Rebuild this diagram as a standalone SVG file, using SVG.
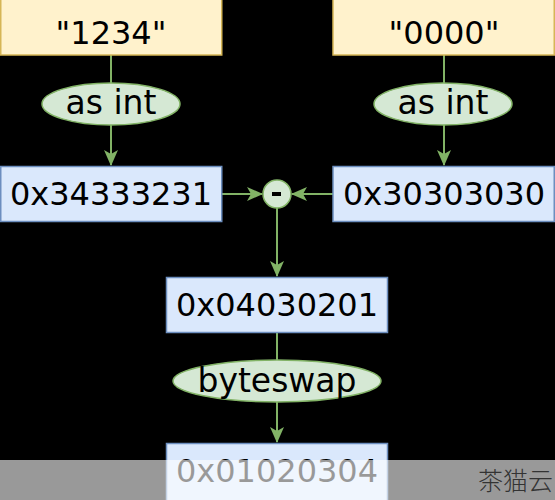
<svg xmlns="http://www.w3.org/2000/svg" width="555" height="500" viewBox="0 0 555 500">
<style>
.str{fill:#fff2cc;stroke:#d6b656;stroke-width:1.5}
.hex{fill:#dae8fc;stroke:#6c8ebf;stroke-width:1.5}
.op{fill:#d5e8d4;stroke:#82b366;stroke-width:1.5}
.t{font-family:"DejaVu Sans",sans-serif;font-size:32px;fill:#000;text-anchor:middle}
.e{font-family:"DejaVu Sans",sans-serif;font-size:33px;fill:#000;text-anchor:middle}
.c{fill:none;stroke:#82b366;stroke-width:2}
</style>
<defs>
<marker id="ah" viewBox="0 0 16 14" refX="15" refY="7" markerWidth="16" markerHeight="14" markerUnits="userSpaceOnUse" orient="auto">
<path d="M0,0 L16,7 L0,14 L4,7 Z" fill="#82b366"/>
</marker>
</defs>
<rect width="555" height="500" fill="#000"/>
<g id="connectors">
<path class="c" d="M111,55 V165" marker-end="url(#ah)"/>
<path class="c" d="M444,55 V165" marker-end="url(#ah)"/>
<path class="c" d="M222,194 H262" marker-end="url(#ah)"/>
<path class="c" d="M333,194 H292" marker-end="url(#ah)"/>
<path class="c" d="M277,208 V276" marker-end="url(#ah)"/>
<path class="c" d="M277,332 V442" marker-end="url(#ah)"/>
</g>
<g id="s1"><rect class="str" x="0.75" y="-1" width="221" height="56"/><text class="t" x="111" y="44">"1234"</text></g>
<g id="s2"><rect class="str" x="333" y="-1" width="221.25" height="56"/><text class="t" x="444" y="44">"0000"</text></g>
<g id="asint1"><ellipse class="op" cx="111" cy="104" rx="69" ry="21"/><text class="e" x="111" y="114">as int</text></g>
<g id="asint2"><ellipse class="op" cx="443" cy="104" rx="69" ry="21"/><text class="e" x="443" y="114">as int</text></g>
<g id="h1"><rect class="hex" x="0.75" y="166.5" width="221" height="55"/><text class="t" x="111" y="205">0x34333231</text></g>
<g id="h2"><rect class="hex" x="333" y="166.5" width="221.25" height="55"/><text class="t" x="444" y="205">0x30303030</text></g>
<g id="minus"><circle class="op" cx="277" cy="194" r="14"/><rect x="272" y="192" width="9" height="4" fill="#000"/></g>
<g id="h3"><rect class="hex" x="166.5" y="277.5" width="221" height="55"/><text class="t" x="277" y="316">0x04030201</text></g>
<g id="bswap"><ellipse class="op" cx="277" cy="381" rx="104" ry="21"/><text class="e" x="277" y="392">byteswap</text></g>
<g id="h4"><rect class="hex" x="166.5" y="443.5" width="221" height="60"/><text class="t" x="277" y="482">0x01020304</text></g>
<g id="watermark">
<rect x="0" y="460" width="555" height="40" fill="#fff" fill-opacity="0.6"/>
<text x="553" y="490" font-family="'Noto Sans CJK SC',sans-serif" font-size="25" font-weight="300" fill="#333" text-anchor="end">茶猫云</text>
</g>
</svg>
